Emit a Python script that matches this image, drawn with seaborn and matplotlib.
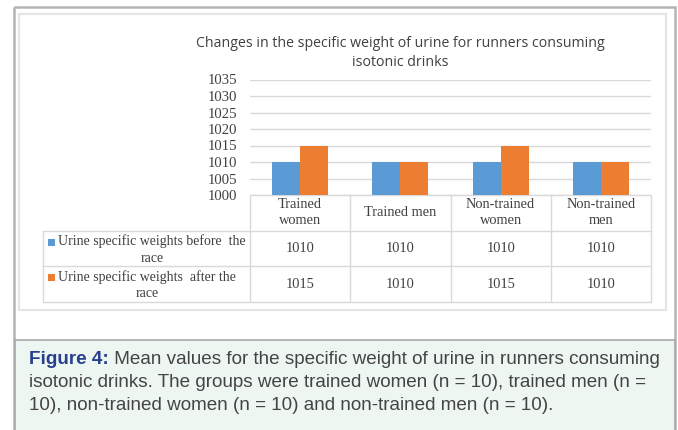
import pandas as pd
import matplotlib.pyplot as plt
import seaborn as sns
from matplotlib.patches import Rectangle

# Data
groups = ["Trained\nwomen", "Trained men", "Non-trained\nwomen", "Non-trained\nmen"]
series = ["Urine specific weights before  the\nrace", "Urine specific weights  after the\nrace"]
before = [1010, 1010, 1010, 1010]
after = [1015, 1010, 1015, 1010]
yticks = [1000, 1005, 1010, 1015, 1020, 1025, 1030, 1035]
colors = ["#5B9BD5", "#ED7D31"]

title = "Changes in the specific weight of urine for runners consuming\nisotonic drinks"
caption_head = "Figure 4:"
caption_lines = [
    " Mean values for the specific weight of urine in runners consuming",
    "isotonic drinks. The groups were trained women (n = 10), trained men (n =",
    "10), non-trained women (n = 10) and non-trained men (n = 10).",
]

df = pd.DataFrame({
    "group": groups * 2,
    "series": [series[0]] * len(groups) + [series[1]] * len(groups),
    "value": before + after,
})

sns.set_theme(style="white")
serif = ["Liberation Serif", "DejaVu Serif"]
text_col = "#404040"
grid_col = "#d9d9d9"
fs = 10.4

W, H = 678, 430
fig = plt.figure(figsize=(W / 100, H / 100), dpi=100)

# background layer in pixel coordinates (frames, table, caption)
bg = fig.add_axes([0, 0, 1, 1], zorder=0)
bg.set_xlim(0, W)
bg.set_ylim(H, 0)
bg.axis("off")

bg.add_patch(Rectangle((13.5, 6.5), 661.5, 440, fill=False, ec="#b4b4b4", lw=1.8))
bg.add_patch(Rectangle((18.5, 14), 647.5, 296, fill=False, ec="#e4e4e4", lw=1.5))
bg.add_patch(Rectangle((14.5, 339.5), 660, 100, fc="#eef6f2", ec="#a8a8a8", lw=1.2))

# bar chart
x0, x1, ytop, ybase = 250, 651, 79.5, 195
ax = fig.add_axes([x0 / W, 1 - ybase / H, (x1 - x0) / W, (ybase - ytop) / H], zorder=1)
ax.patch.set_alpha(0)
sns.barplot(data=df, x="group", y="value", hue="series", palette=colors,
            saturation=1, width=0.56, linewidth=0, legend=False, ax=ax)
ax.set_ylim(1000, 1035)
ax.set_yticks(yticks)
ax.yaxis.grid(True, color=grid_col, lw=1.0)
ax.set_axisbelow(True)
ax.set_xlabel("")
ax.set_ylabel("")
ax.set_xticklabels([])
ax.tick_params(axis="y", length=0, pad=9, labelsize=10.6, labelcolor=text_col)
ax.tick_params(axis="x", length=0)
for lab in ax.get_yticklabels():
    lab.set_family(serif)
sns.despine(ax=ax, left=True, bottom=True)

bg.text(400, 53, title, ha="center", va="center", fontsize=10.2, color=text_col,
        family=["Open Sans", "DejaVu Sans"], linespacing=1.4)

# data table under the axis
colw = (x1 - x0) / len(groups)
rows = [ybase, 231, 266, 302]
tl = dict(color=grid_col, lw=1.0)
bg.plot([x0, x1], [rows[0], rows[0]], **tl)
for yy in rows[1:]:
    bg.plot([43, x1], [yy, yy], **tl)
bg.plot([43, 43], [rows[1], rows[3]], **tl)
for i in range(len(groups) + 1):
    bg.plot([x0 + i * colw] * 2, [rows[0], rows[3]], **tl)

for i, g in enumerate(groups):
    cx = x0 + (i + 0.5) * colw
    bg.text(cx, (rows[0] + rows[1]) / 2, g, ha="center", va="center",
            fontsize=fs, color=text_col, family=serif, linespacing=1.3)
    for r, vals in enumerate([before, after]):
        bg.text(cx, (rows[r + 1] + rows[r + 2]) / 2, str(vals[i]), ha="center",
                va="center", fontsize=fs, color=text_col, family=serif)

for r, s in enumerate(series):
    y_top = rows[r + 1]
    bg.add_patch(Rectangle((47.5, y_top + 7.5), 7, 7, color=colors[r], lw=0))
    bg.text(58, (y_top + rows[r + 2]) / 2 + 1, s, ha="left", va="center",
            multialignment="center", fontsize=10, color=text_col, family=serif,
            linespacing=1.35)

# caption
cap_font = ["Liberation Sans", "DejaVu Sans"]
cap_size = 13.6
head = bg.text(29, 359, caption_head, ha="left", va="center", fontsize=cap_size,
               color="#27408b", weight="bold", family=cap_font)
bg.annotate(caption_lines[0], xy=(1, 0.5), xycoords=head, ha="left", va="center",
            fontsize=cap_size, color="#444444", family=cap_font)
for k, line in enumerate(caption_lines[1:]):
    bg.text(29, 382.5 + k * 23.5, line, ha="left", va="center", fontsize=cap_size,
            color="#444444", family=cap_font)

fig.savefig("out.png", dpi=100)
